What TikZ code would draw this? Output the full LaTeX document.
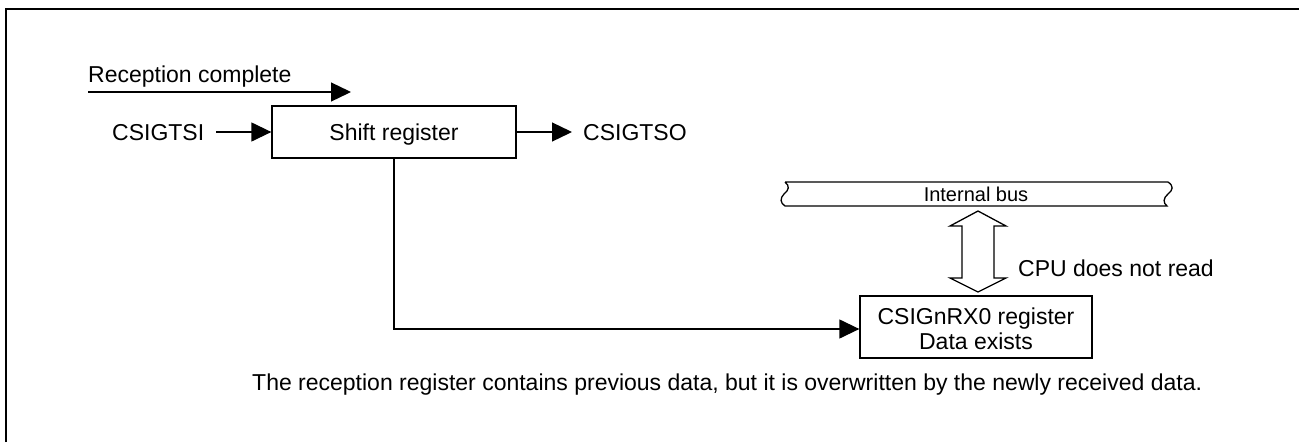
\documentclass[tikz,border=0pt]{standalone}
\usepackage{fontspec}
\setmainfont{Liberation Sans}
\usetikzlibrary{arrows.meta,calc}
\begin{document}
\begin{tikzpicture}[x=1pt,y=-1pt,
  lbl/.style={font=\fontsize{23}{27}\selectfont, inner sep=0pt, anchor=base west},
  ctr/.style={font=\fontsize{23}{27}\selectfont, inner sep=0pt, anchor=base},
  box/.style={draw, line width=1.3pt, inner sep=0pt},
  conn/.style={line width=1.3pt, -{Triangle[length=20pt,width=19pt]}},
  ln/.style={line width=1.3pt},
  ]
\useasboundingbox (0,0) rectangle (1299,442);
% frame
\draw[line width=2pt] (6,442) -- (6,9) -- (1299,9);

% reception complete
\node[lbl] (rc) at (88,82) {Reception complete};
\coordinate (rcA) at (88,92);
\coordinate (rcB) at (351,92);
\draw[conn] (rcA) -- (rcB);

% shift register
\node[box, minimum width=244pt, minimum height=52pt,
      font=\fontsize{23}{27}\selectfont, text height=16.5pt, text depth=0.5pt]
      (sr) at (394,132) {Shift register};

\node[lbl] (tsi) at (112,140) {CSIGTSI};
\coordinate (tsiA) at (216,132);
\draw[conn] (tsiA) -- (sr.west);

\coordinate (tsoA) at (572,132);
\draw[conn] (sr.east) -- (tsoA);
\node[lbl] (tso) at (583,140) {CSIGTSO};

% internal bus
\node[inner sep=0pt, minimum width=383pt, minimum height=24pt,
      font=\fontsize{20}{24}\selectfont, text height=14.3pt, text depth=0pt]
      (bus) at (976,194) {Internal bus};
\draw[ln] (785,182) -- (1168,182)
  .. controls (1174,186) and (1173,190) .. (1168,194)
  .. controls (1163,198) and (1163,203) .. (1167,206)
  -- (785,206)
  .. controls (780,203) and (780,198) .. (784,194)
  .. controls (789,190) and (790,186) .. (785,182);

% CSIGnRX0 register
\node[box, minimum width=232pt, minimum height=62pt] (rx) at (976,327) {};
\node[ctr] (rxt1) at (976,324) {CSIGnRX0 register};
\node[ctr] (rxt2) at (976,349) {Data exists};

% double arrow
\draw[ln, line join=miter] (978,211) -- (1006,226) -- (994,226) -- (994,278)
  -- (1006,278) -- (978,292) -- (950,278) -- (962,278) -- (962,226)
  -- (950,226) -- cycle;
\node[lbl] (cpu) at (1018,276) {CPU does not read};

% connector shift register -> CSIGnRX0
\draw[conn] (sr.south) |- ($(rx.west)+(0,2)$);

% note
\node[lbl] (note) at (252,390) {The reception register contains previous data, but it is overwritten by the newly received data.};
\end{tikzpicture}
\end{document}
